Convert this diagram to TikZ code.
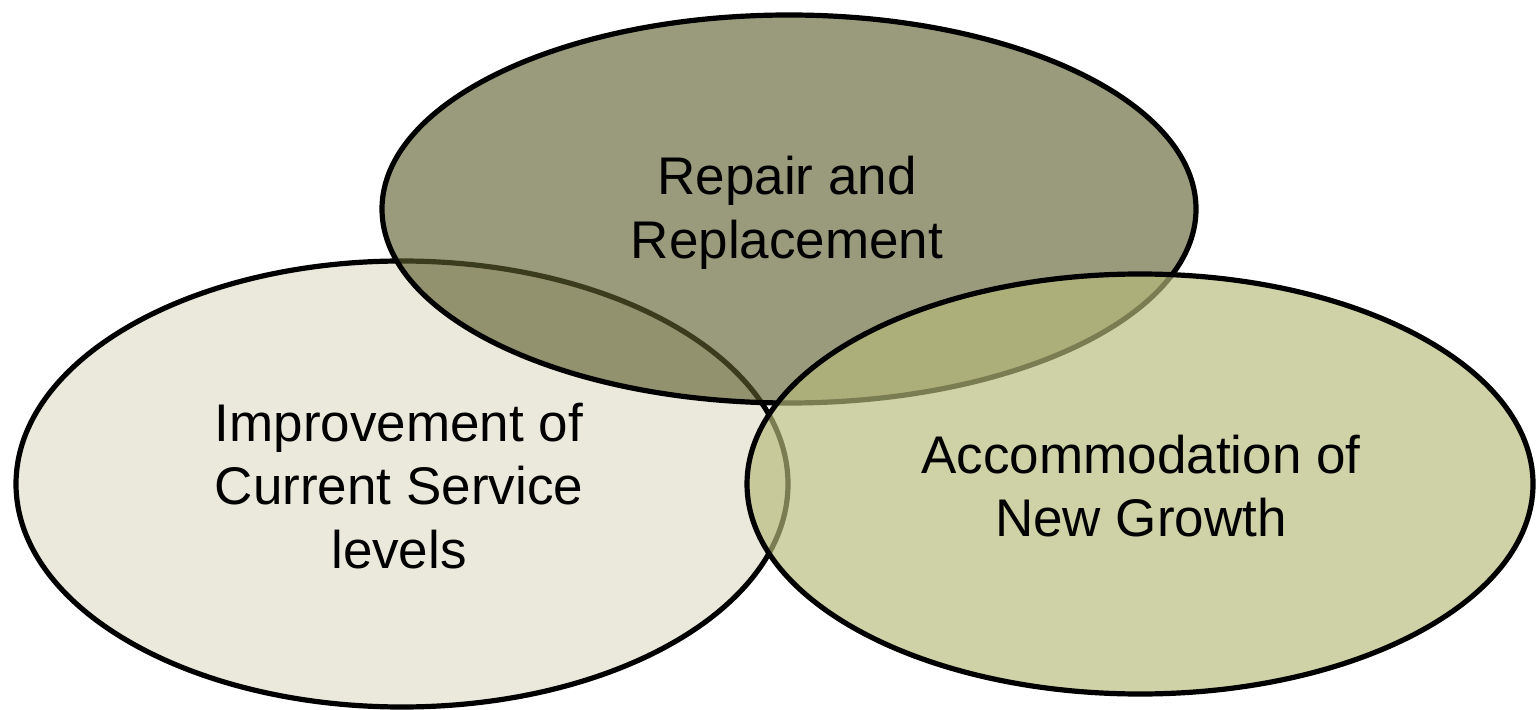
\documentclass[tikz,border=0pt]{standalone}
\usepackage{fontspec}
\setmainfont{Liberation Sans}
\usetikzlibrary{shapes.geometric}
\definecolor{leftfill}{RGB}{235,233,220}
\definecolor{topfill}{RGB}{95,96,47}
\definecolor{rightfill}{RGB}{183,186,122}
\tikzset{
  setbox/.style={ellipse, draw=black, line width=2.6pt, inner sep=0pt},
  setlabel/.style={inner sep=0pt, align=center,
    font=\fontsize{26.5pt}{31.75pt}\selectfont},
}
\begin{document}
\begin{tikzpicture}[x=0.5pt,y=-0.5pt]
\useasboundingbox (0,0) rectangle (1540,710);
\node[setbox, fill=leftfill, minimum width=386pt, minimum height=223pt]
  (improve) at (402,484) {};
\node[setlabel] (improvetext) at (399,486) {Improvement of\\Current Service\\levels};
\node[setbox, fill=topfill, fill opacity=0.63, minimum width=407pt, minimum height=194pt]
  (repair) at (789,209) {};
\node[setlabel] (repairtext) at (787,213) {Repair and\\Replacement};
\node[setbox, fill=rightfill, fill opacity=0.67, minimum width=393pt, minimum height=210pt]
  (growth) at (1140,484) {};
\node[setlabel] (growthtext) at (1141,486) {Accommodation of\\New Growth};
\end{tikzpicture}
\end{document}
